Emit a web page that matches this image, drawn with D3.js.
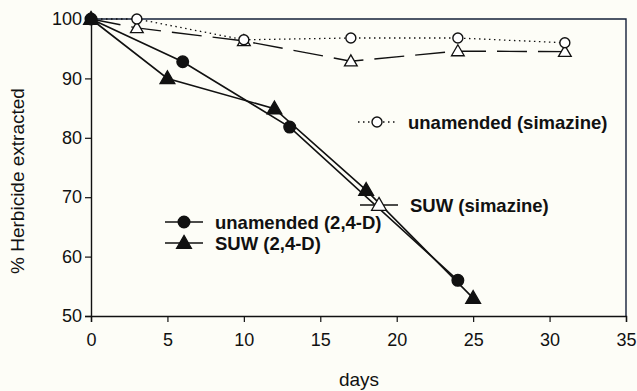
<!DOCTYPE html>
<html>
<head>
<meta charset="utf-8">
<script src="https://cdn.jsdelivr.net/npm/d3@7"></script>
<style>
  html, body { margin: 0; padding: 0; background: #fdfdf7; }
  svg { display: block; }
  text { font-family: "Liberation Sans", Arial, sans-serif; fill: #111; }
</style>
</head>
<body>
<svg id="chart" width="637" height="391"></svg>
<script>
// Herbicide recovery over time
const daysCircle24D = [0, 6, 13, 24];
const unamended24D  = [100, 92.8, 81.8, 56];
const daysTri24D    = [0, 5, 12, 18, 25];
const suw24D        = [100, 90, 84.9, 71.2, 53];
const daysSim       = [0, 3, 10, 17, 24, 31];
const unamendedSim  = [100, 100, 96.5, 96.8, 96.8, 96];
const suwSim        = [100, 98.5, 96.3, 92.9, 94.6, 94.5];
const xTicks = [0, 5, 10, 15, 20, 25, 30, 35];
const yTicks = [50, 60, 70, 80, 90, 100];
const seriesNames = ["unamended (2,4-D)", "SUW (2,4-D)", "unamended (simazine)", "SUW (simazine)"];

const svg = d3.select("#chart");
const plotL = 91, plotR = 626, plotT = 19, plotB = 316;
const x = d3.scaleLinear().domain([0, 35]).range([plotL, plotR]);
const y = d3.scaleLinear().domain([50, 100]).range([plotB, plotT]);
const ink = "#111";

// frame (top and right)
svg.append("path")
  .attr("d", `M${plotL},${plotT}H${plotR}V${plotB}`)
  .attr("fill", "none").attr("stroke", "#14203a").attr("stroke-width", 1.4);

// axes
const xAxis = svg.append("g").attr("transform", `translate(0,${plotB})`)
  .call(d3.axisBottom(x).tickValues(xTicks).tickSize(6).tickPadding(11));
const yAxis = svg.append("g").attr("transform", `translate(${plotL},0)`)
  .call(d3.axisLeft(y).tickValues(yTicks).tickSize(6).tickPadding(3));
[xAxis, yAxis].forEach(g => {
  g.select(".domain").attr("stroke", ink).attr("stroke-width", 1.4);
  g.selectAll(".tick line").attr("stroke", ink).attr("stroke-width", 1.2);
  g.selectAll(".tick text").attr("font-size", 18).attr("fill", ink)
    .style("font-family", '"Liberation Sans", Arial, sans-serif');
});

svg.append("text").attr("x", 359).attr("y", 386).attr("text-anchor", "middle")
  .attr("font-size", 19).text("days");
svg.append("text").attr("transform", "translate(24,181) rotate(-90)")
  .attr("text-anchor", "middle").attr("font-size", 19).text("% Herbicide extracted");

const line = d3.line().x(d => x(d[0])).y(d => y(d[1]));
const pts = (xs, ys) => xs.map((d, i) => [d, ys[i]]);
const triPath = d3.symbol(d3.symbolTriangle, 95);
const triSmall = d3.symbol(d3.symbolTriangle, 70);

const series = [
  { name: seriesNames[0], data: pts(daysCircle24D, unamended24D), dash: null, legendDash: null, w: 1.6, marker: "circle", fill: ink },
  { name: seriesNames[1], data: pts(daysTri24D, suw24D), dash: null, legendDash: null, w: 1.6, marker: "tri", fill: ink },
  { name: seriesNames[2], data: pts(daysSim, unamendedSim), dash: "1.5,3.5", legendDash: "1.5,3.5", w: 1.3, marker: "circle", fill: "#fff" },
  { name: seriesNames[3], data: pts(daysSim, suwSim), dash: "30,11", legendDash: null, w: 1.4, marker: "tri", fill: "#fff" }
];

function drawMarker(g, m, cx, cy, fill, small) {
  if (m === "circle") {
    g.append("circle").attr("cx", cx).attr("cy", cy).attr("r", fill === ink ? 5.8 : 5)
      .attr("fill", fill).attr("stroke", ink).attr("stroke-width", 1.4);
  } else {
    g.append("path").attr("d", (small ? triSmall : triPath)())
      .attr("transform", `translate(${cx},${cy + 1})`)
      .attr("fill", fill).attr("stroke", ink).attr("stroke-width", 1.3);
  }
}

// simazine series first, 2,4-D on top
[3, 2, 1, 0].forEach(i => {
  const s = series[i];
  svg.append("path").datum(s.data).attr("d", line)
    .attr("fill", "none").attr("stroke", ink).attr("stroke-width", s.w)
    .attr("stroke-dasharray", s.dash);
  const g = svg.append("g");
  s.data.forEach(d => drawMarker(g, s.marker, x(d[0]), y(d[1]), s.fill, i === 3));
});

// legends
const legendItems = [
  { s: series[0], lx: 165, ly: 222 },
  { s: series[1], lx: 165, ly: 243 },
  { s: series[2], lx: 358, ly: 122 },
  { s: series[3], lx: 360, ly: 205 }
];
legendItems.forEach(it => {
  const g = svg.append("g");
  g.append("line").attr("x1", it.lx).attr("x2", it.lx + 38).attr("y1", it.ly).attr("y2", it.ly)
    .attr("stroke", ink).attr("stroke-width", it.s.w)
    .attr("stroke-dasharray", it.s.legendDash);
  drawMarker(g, it.s.marker, it.lx + 19, it.ly, it.s.fill, false);
  g.append("text").attr("x", it.lx + 50).attr("y", it.ly).attr("dy", "0.36em")
    .attr("font-size", 18.5).attr("font-weight", "bold").text(it.s.name);
});
</script>
</body>
</html>
